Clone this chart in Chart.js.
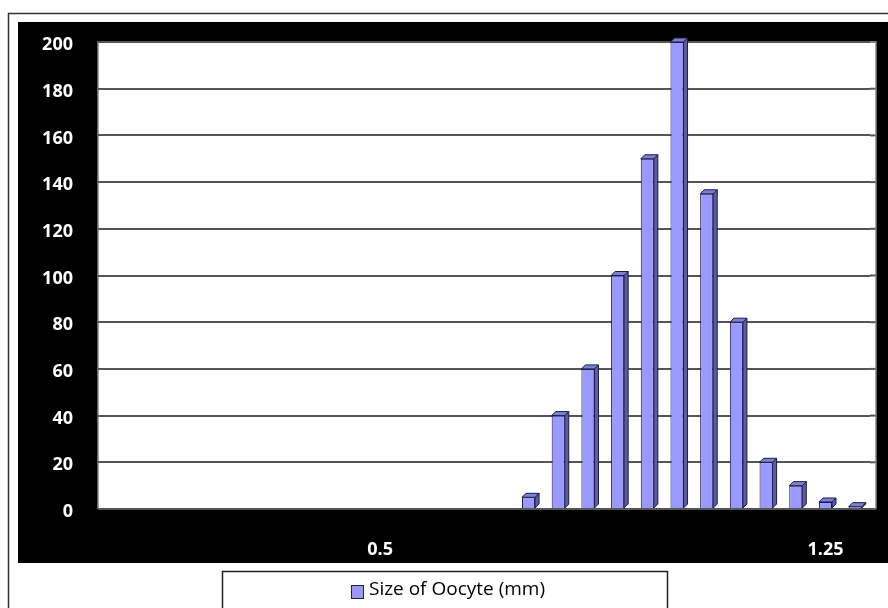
<!DOCTYPE html>
<html>
<head>
<meta charset="utf-8">
<script src="https://cdn.jsdelivr.net/npm/chart.js@4/dist/chart.umd.min.js"></script>
<style>
  html, body { margin: 0; padding: 0; background: #fff; }
  #wrap { width: 888px; height: 608px; }
</style>
</head>
<body>
<div id="wrap"><canvas id="oocyte-chart" width="888" height="608"></canvas></div>
<script>
// oocyte size classes (mm) and number of oocytes in each
const sizeClasses = ['0.05', '0.1', '0.15', '0.2', '0.25', '0.3', '0.35', '0.4', '0.45', '0.5',
    '0.55', '0.6', '0.65', '0.7', '0.75', '0.8', '0.85', '0.9', '0.95', '1',
    '1.05', '1.1', '1.15', '1.2', '1.25', '1.3'];
const oocyteCounts = [0, 0, 0, 0, 0, 0, 0, 0, 0, 0,
    0, 0, 0, 0, 5, 40, 60, 100, 150, 200,
    135, 80, 20, 10, 3, 1];
const shownSizeTicks = ['0.5', '1.25'];
const seriesLabel = 'Size of Oocyte (mm)';

const barFront = '#9999ff';
const barSide = '#5c5ca6';
const barTop = '#7f7fd6';
const barEdge = '#1c1c44';
const DEPTH = 4;

// black frame, white plot wall and outer border
const framePlugin = {
    id: 'frame',
    beforeDraw(chart) {
        const { ctx, chartArea: a } = chart;
        ctx.save();
        ctx.fillStyle = '#fff';
        ctx.fillRect(0, 0, chart.width, chart.height);
        ctx.strokeStyle = '#333';
        ctx.lineWidth = 1.5;
        ctx.strokeRect(8.5, 13.5, 900, 620);
        ctx.fillStyle = '#000';
        ctx.fillRect(18, 22, chart.width, 541);
        ctx.fillStyle = '#fff';
        ctx.fillRect(a.left, a.top, a.right + 6 - a.left, a.bottom - a.top);
        // grid lines continue on the back wall
        const y = chart.scales.y;
        ctx.strokeStyle = '#555';
        ctx.lineWidth = 2;
        y.ticks.forEach(t => {
            const py = y.getPixelForValue(t.value);
            ctx.beginPath();
            ctx.moveTo(a.right, py);
            ctx.lineTo(a.right + 6, py);
            ctx.stroke();
        });
        ctx.strokeStyle = '#888';
        ctx.lineWidth = 1.5;
        ctx.beginPath();
        ctx.moveTo(a.left, a.bottom);
        ctx.lineTo(a.left, a.top);
        ctx.lineTo(a.right + 6, a.top);
        ctx.lineTo(a.right + 6, a.bottom);
        ctx.stroke();
        ctx.restore();
    }
};

// side and top faces for the 3-D look of each column
const depthPlugin = {
    id: 'depth',
    afterDatasetsDraw(chart) {
        const { ctx } = chart;
        const meta = chart.getDatasetMeta(0);
        ctx.save();
        ctx.lineWidth = 1;
        ctx.strokeStyle = barEdge;
        meta.data.forEach((bar, i) => {
            if (!oocyteCounts[i]) return;
            const { x, y, base, width } = bar.getProps(['x', 'y', 'base', 'width'], true);
            const l = x - width / 2, r = x + width / 2;
            ctx.fillStyle = barSide;
            ctx.beginPath();
            ctx.moveTo(r, base);
            ctx.lineTo(r, y);
            ctx.lineTo(r + DEPTH, y - DEPTH);
            ctx.lineTo(r + DEPTH, base - DEPTH);
            ctx.closePath();
            ctx.fill();
            ctx.stroke();
            ctx.fillStyle = barTop;
            ctx.beginPath();
            ctx.moveTo(l, y);
            ctx.lineTo(l + DEPTH, y - DEPTH);
            ctx.lineTo(r + DEPTH, y - DEPTH);
            ctx.lineTo(r, y);
            ctx.closePath();
            ctx.fill();
            ctx.stroke();
        });
        ctx.restore();
    }
};

// boxed legend under the frame
const legendBoxPlugin = {
    id: 'legendBox',
    afterDraw(chart) {
        const { ctx } = chart;
        const ds = chart.data.datasets[0];
        ctx.save();
        ctx.strokeStyle = '#222';
        ctx.lineWidth = 1.5;
        ctx.strokeRect(222.5, 571.5, 445, 60);
        ctx.font = '19px "Open Sans"';
        ctx.textBaseline = 'middle';
        const tw = ctx.measureText(ds.label).width;
        const total = 12 + 6 + tw;
        const sx = 448 - total / 2;
        ctx.fillStyle = ds.backgroundColor;
        ctx.fillRect(sx, 585, 12, 13);
        ctx.strokeStyle = '#222';
        ctx.lineWidth = 1;
        ctx.strokeRect(sx + 0.5, 585.5, 12, 13);
        ctx.fillStyle = '#000';
        ctx.fillText(ds.label, sx + 18, 590);
        ctx.restore();
    }
};

new Chart(document.getElementById('oocyte-chart'), {
    type: 'bar',
    data: {
        labels: sizeClasses,
        datasets: [{
            label: seriesLabel,
            data: oocyteCounts,
            backgroundColor: barFront,
            borderColor: barEdge,
            borderWidth: 1,
            barPercentage: 0.44,
            categoryPercentage: 1
        }]
    },
    options: {
        responsive: false,
        animation: false,
        layout: { padding: { left: 18, top: 42, right: 18, bottom: 45 } },
        plugins: {
            legend: { display: false },
            tooltip: { enabled: false }
        },
        scales: {
            x: {
                grid: { display: false, drawTicks: false },
                border: { display: false },
                afterFit(scale) { scale.height = 54; },
                ticks: {
                    autoSkip: false,
                    maxRotation: 0,
                    padding: 30,
                    color: '#fff',
                    font: { family: 'Open Sans', size: 18, weight: 'bold' },
                    callback(value) {
                        const lab = this.getLabelForValue(value);
                        return shownSizeTicks.includes(lab) ? lab : '';
                    }
                }
            },
            y: {
                min: 0,
                max: 200,
                afterFit(scale) { scale.width = 80; },
                grid: { color: '#555', lineWidth: 2, drawTicks: false },
                border: { display: false },
                ticks: {
                    stepSize: 20,
                    padding: 25,
                    labelOffset: 3,
                    color: '#fff',
                    font: { family: 'Open Sans', size: 18, weight: 'bold' }
                }
            }
        }
    },
    plugins: [framePlugin, depthPlugin, legendBoxPlugin]
});
</script>
</body>
</html>
